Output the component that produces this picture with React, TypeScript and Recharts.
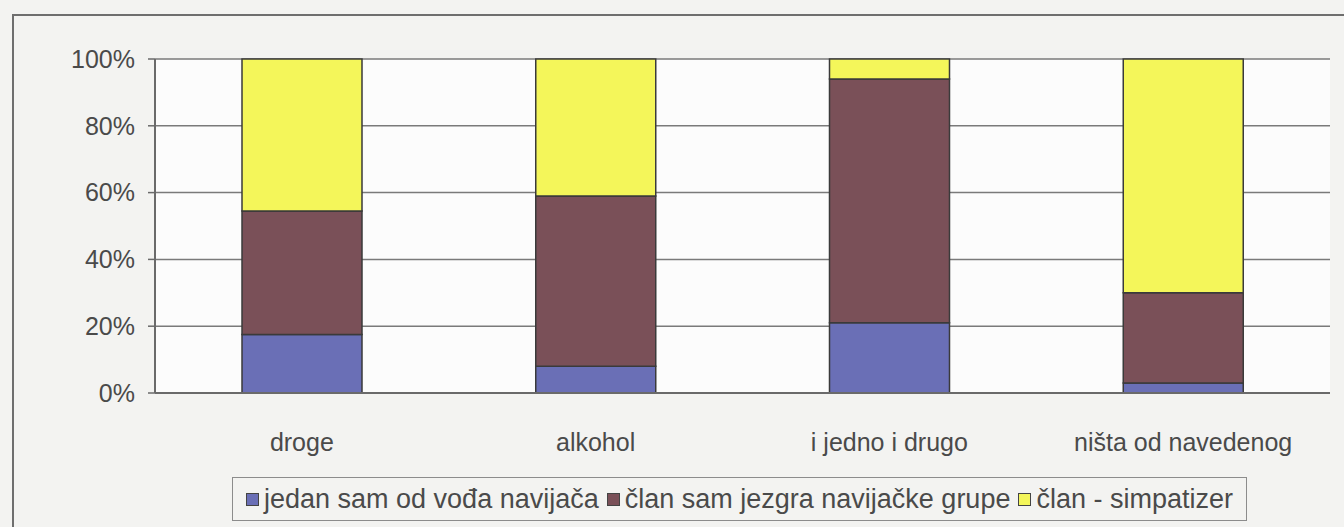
import { BarChart, Bar, XAxis, YAxis, CartesianGrid, Legend } from "recharts"

const categories = ["droge", "alkohol", "i jedno i drugo", "ništa od navedenog"]
const vodja = [17.5, 8, 21, 3]
const jezgra = [37, 51, 73, 27]
const simpatizer = [45.5, 41, 6, 70]
const yTicks = [0, 20, 40, 60, 80, 100]
const boundaryTicks = [0, 1, 2, 3, 4]

const seriesNames = ["jedan sam od vođa navijača", "član sam jezgra navijačke grupe", "član - simpatizer"]
const seriesColors = ["#6a6fb6", "#7a5058", "#f4f65a"]

const data = categories.map((name, i) => ({
  name,
  vodja: vodja[i],
  jezgra: jezgra[i],
  simpatizer: simpatizer[i],
}))

const font = "'Liberation Sans', Arial, sans-serif"
const textColor = "#4a4a4a"

function XTick({ x, y, payload }: any) {
  return (
    <text x={x} y={y + 50} textAnchor="middle" fontSize={25} fontFamily={font} fill={textColor}>
      {payload.value}
    </text>
  )
}

function LegendBox() {
  return (
    <div
      style={{
        width: 1015,
        height: 44,
        boxSizing: "border-box",
        border: "1.5px solid #8c8c8c",
        display: "flex",
        alignItems: "center",
        justifyContent: "center",
        fontFamily: font,
        fontSize: 27,
        color: textColor,
        whiteSpace: "nowrap",
      }}
    >
      {seriesNames.map((n, i) => (
        <span key={n} style={{ display: "flex", alignItems: "center", marginRight: i < 2 ? 8 : 0 }}>
          <span
            style={{
              display: "inline-block",
              width: 11,
              height: 11,
              background: seriesColors[i],
              border: "1px solid #444",
              marginRight: 5,
            }}
          />
          {n}
        </span>
      ))}
    </div>
  )
}

export default function App() {
  return (
    <div style={{ position: "relative", width: 1344, height: 527, background: "#f3f3f1", overflow: "hidden" }}>
      <style>{"body{margin:0}"}</style>
      <div
        style={{
          position: "absolute",
          left: 12,
          top: 14,
          width: 1400,
          height: 600,
          borderLeft: "2px solid #6e6e6e",
          borderTop: "2px solid #6e6e6e",
        }}
      />
      <div style={{ position: "absolute", left: 0, top: 0 }}>
        <BarChart
          width={1344}
          height={527}
          data={data}
          margin={{ top: 59, right: 14, bottom: 0, left: 0 }}
          barSize={120}
        >
          <CartesianGrid vertical={false} stroke="#7a7a7a" strokeWidth={1.5} fill="#fcfcfc" />
          <XAxis
            xAxisId="b"
            type="number"
            domain={[0, 4]}
            ticks={boundaryTicks}
            height={0}
            tick={false}
            tickSize={7}
            axisLine={false}
            tickLine={{ stroke: "#6a6a6a", strokeWidth: 1.5 }}
          />
          <XAxis
            dataKey="name"
            height={134}
            tick={<XTick />}
            tickLine={false}
            axisLine={{ stroke: "#6a6a6a", strokeWidth: 2 }}
          />
          <YAxis
            domain={[0, 100]}
            ticks={yTicks}
            width={155}
            tickFormatter={(v) => v + "%"}
            tick={{ fontSize: 25, fontFamily: font, fill: textColor }}
            tickSize={7}
            tickMargin={13}
            tickLine={{ stroke: "#6a6a6a", strokeWidth: 1.5 }}
            axisLine={{ stroke: "#6a6a6a", strokeWidth: 2 }}
          />
          <YAxis
            yAxisId="r"
            orientation="right"
            width={0}
            domain={[0, 100]}
            tick={false}
            tickLine={false}
            axisLine={{ stroke: "#7a7a7a", strokeWidth: 1.5 }}
          />
          <Legend
            verticalAlign="middle"
            align="center"
            layout="horizontal"
            wrapperStyle={{ left: 232, top: 477, width: 1015, height: 44 }}
            content={() => <LegendBox />}
          />
          <Bar dataKey="vodja" name={seriesNames[0]} stackId="a" fill={seriesColors[0]} stroke="#3a3a3a" strokeWidth={1.5} isAnimationActive={false} />
          <Bar dataKey="jezgra" name={seriesNames[1]} stackId="a" fill={seriesColors[1]} stroke="#3a3a3a" strokeWidth={1.5} isAnimationActive={false} />
          <Bar dataKey="simpatizer" name={seriesNames[2]} stackId="a" fill={seriesColors[2]} stroke="#3a3a3a" strokeWidth={1.5} isAnimationActive={false} />
        </BarChart>
      </div>
    </div>
  )
}
